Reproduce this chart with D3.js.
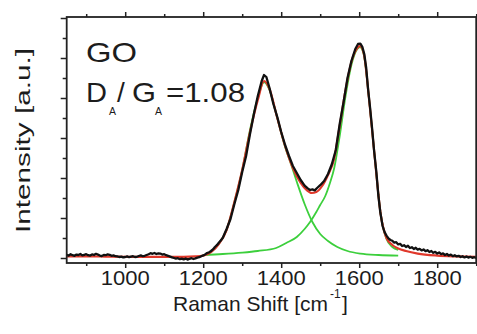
<!DOCTYPE html>
<html>
<head>
<meta charset="utf-8">
<script src="https://cdn.jsdelivr.net/npm/d3@7"></script>
<style>
body { margin: 0; background: #fff; }
text { font-family: "Liberation Sans", Arial, sans-serif; fill: #1c1c1c; }
</style>
</head>
<body>
<div id="chart"></div>
<script>

// measured Raman spectrum of GO (black), [shift cm-1, intensity a.u.]
var spectrum = [
    [850, 0.016], [855, 0.012], [860, 0.019], [865, 0.014], [870, 0.011], [875, 0.017],
    [880, 0.015], [885, 0.020], [890, 0.013], [895, 0.016], [900, 0.019], [905, 0.014],
    [910, 0.012], [915, 0.018], [920, 0.015], [925, 0.021], [930, 0.017], [935, 0.012],
    [940, 0.010], [945, 0.015], [950, 0.014], [955, 0.018], [960, 0.016], [965, 0.011],
    [970, 0.013], [975, 0.009], [980, 0.008], [985, 0.005], [990, 0.007], [995, 0.003],
    [1000, 0.005], [1005, 0.008], [1010, 0.004], [1015, 0.007], [1020, 0.009], [1025, 0.005],
    [1030, 0.006], [1035, 0.010], [1040, 0.013], [1045, 0.009], [1050, 0.011], [1055, 0.015],
    [1060, 0.019], [1065, 0.024], [1070, 0.021], [1075, 0.025], [1080, 0.020], [1085, 0.023],
    [1090, 0.022], [1095, 0.017], [1100, 0.019], [1105, 0.014], [1110, 0.011], [1115, 0.007],
    [1120, 0.003], [1125, 0.000], [1130, -0.003], [1135, -0.001], [1140, -0.006], [1145, -0.003],
    [1150, -0.007], [1155, -0.002], [1160, -0.008], [1165, -0.004], [1170, -0.001], [1175, -0.005],
    [1180, -0.002], [1185, 0.002], [1190, 0.004], [1195, 0.009], [1200, 0.013], [1205, 0.018],
    [1210, 0.025], [1215, 0.028], [1220, 0.035], [1225, 0.043], [1230, 0.055], [1235, 0.064],
    [1240, 0.076], [1245, 0.088], [1250, 0.100], [1260, 0.145], [1270, 0.195], [1280, 0.270],
    [1290, 0.340], [1300, 0.430], [1310, 0.510], [1320, 0.620], [1330, 0.720], [1340, 0.810],
    [1350, 0.885], [1356, 0.915], [1362, 0.905], [1370, 0.850], [1380, 0.770], [1390, 0.705],
    [1400, 0.630], [1410, 0.565], [1420, 0.510], [1430, 0.460], [1440, 0.425], [1450, 0.390],
    [1460, 0.362], [1468, 0.348], [1474, 0.340], [1480, 0.343], [1486, 0.338], [1492, 0.350],
    [1500, 0.364], [1510, 0.385], [1520, 0.420], [1530, 0.470], [1540, 0.540], [1550, 0.670],
    [1560, 0.780], [1570, 0.900], [1580, 0.985], [1590, 1.045], [1597, 1.070], [1603, 1.072],
    [1608, 1.056], [1613, 1.020], [1618, 0.950], [1623, 0.840], [1628, 0.750], [1633, 0.650],
    [1638, 0.540], [1644, 0.430], [1649, 0.315], [1654, 0.230], [1660, 0.160], [1665, 0.130],
    [1670, 0.112], [1675, 0.098], [1680, 0.090], [1685, 0.086], [1690, 0.077], [1695, 0.079],
    [1700, 0.068], [1705, 0.071], [1710, 0.060], [1715, 0.064], [1720, 0.055], [1725, 0.061],
    [1730, 0.050], [1735, 0.054], [1740, 0.045], [1745, 0.051], [1750, 0.042], [1755, 0.046],
    [1760, 0.038], [1765, 0.043], [1770, 0.034], [1775, 0.039], [1780, 0.030], [1785, 0.035],
    [1790, 0.026], [1795, 0.031], [1800, 0.022], [1805, 0.028], [1810, 0.019], [1815, 0.023],
    [1820, 0.015], [1825, 0.020], [1830, 0.012], [1835, 0.017], [1840, 0.009], [1845, 0.014],
    [1850, 0.008], [1855, 0.011], [1860, 0.005], [1865, 0.009], [1870, 0.003], [1875, 0.008],
    [1880, 0.002], [1885, 0.006], [1890, 0.001], [1895, 0.004], [1900, 0.000]
];

// cumulative fit (red)
var fitSum = [
    [850, 0.008], [900, 0.008], [950, 0.007], [1000, 0.006], [1050, 0.006], [1100, 0.006],
    [1150, 0.006], [1180, 0.008], [1200, 0.012], [1220, 0.030], [1240, 0.070], [1260, 0.140],
    [1280, 0.280], [1300, 0.440], [1320, 0.630], [1340, 0.790], [1356, 0.885], [1370, 0.845],
    [1390, 0.700], [1410, 0.560], [1430, 0.450], [1450, 0.375], [1465, 0.340], [1478, 0.325],
    [1490, 0.330], [1505, 0.360], [1520, 0.415], [1535, 0.490], [1550, 0.660], [1565, 0.840],
    [1580, 0.980], [1595, 1.050], [1602, 1.060], [1612, 1.020], [1625, 0.800], [1640, 0.500],
    [1655, 0.220], [1670, 0.100], [1685, 0.065], [1700, 0.048], [1720, 0.035], [1750, 0.022],
    [1800, 0.012], [1850, 0.008], [1900, 0.006]
];

// D band component (green)
var dBand = [
    [1200, 0.012], [1220, 0.030], [1240, 0.070], [1260, 0.140], [1280, 0.280], [1300, 0.440],
    [1320, 0.640], [1340, 0.800], [1356, 0.880], [1370, 0.840], [1390, 0.700], [1410, 0.555],
    [1425, 0.470], [1441, 0.375], [1460, 0.270], [1480, 0.180], [1500, 0.120], [1520, 0.085],
    [1544, 0.055], [1570, 0.035], [1603, 0.022], [1650, 0.015], [1700, 0.012]
];

// G band component (green)
var gBand = [
    [1200, 0.015], [1250, 0.020], [1300, 0.027], [1340, 0.035], [1387, 0.050], [1413, 0.075],
    [1440, 0.105], [1460, 0.145], [1474, 0.180], [1490, 0.230], [1500, 0.265], [1513, 0.310],
    [1525, 0.375], [1536, 0.450], [1550, 0.610], [1565, 0.810], [1580, 0.965], [1595, 1.045],
    [1602, 1.055], [1612, 1.015], [1625, 0.800], [1640, 0.500], [1655, 0.220], [1670, 0.095],
    [1685, 0.055], [1700, 0.040]
];

var xMajorTicks = [1000, 1200, 1400, 1600, 1800];
var xMinorTicks = [900, 1100, 1300, 1500, 1700, 1900];
var yMajorTicks = [0, 0.2, 0.4, 0.6, 0.8, 1.0, 1.2];
var yMinorTicks = [0.1, 0.3, 0.5, 0.7, 0.9, 1.1];

var width = 477, height = 334;
var plotLeft = 66.7, plotRight = 476.2, plotTop = 17, plotBottom = 263;

var svg = d3.select("#chart").append("svg")
    .attr("width", width)
    .attr("height", height);

svg.append("rect")
    .attr("width", width)
    .attr("height", height)
    .attr("fill", "#fff");

var x = d3.scaleLinear().domain([850, 1900]).range([plotLeft, plotRight]);
var y = d3.scaleLinear().domain([-0.025, 1.205]).range([plotBottom, plotTop]);

svg.append("clipPath").attr("id", "plot-clip")
    .append("rect")
    .attr("x", plotLeft).attr("y", plotTop)
    .attr("width", plotRight - plotLeft).attr("height", plotBottom - plotTop);

var plot = svg.append("g").attr("clip-path", "url(#plot-clip)");

var smooth = d3.line()
    .x(function (d) { return x(d[0]); })
    .y(function (d) { return y(d[1]); })
    .curve(d3.curveMonotoneX);

var raw = d3.line()
    .x(function (d) { return x(d[0]); })
    .y(function (d) { return y(d[1]); });

plot.selectAll(".band")
    .data([dBand, gBand])
    .enter().append("path")
    .attr("class", "band")
    .attr("d", smooth)
    .attr("fill", "none")
    .attr("stroke", "#3ccf3c")
    .attr("stroke-width", 1.8);

plot.append("path")
    .attr("d", smooth(fitSum))
    .attr("fill", "none")
    .attr("stroke", "#e0382b")
    .attr("stroke-width", 2.2);

plot.append("path")
    .attr("d", raw(spectrum))
    .attr("fill", "none")
    .attr("stroke", "#111")
    .attr("stroke-width", 2.3)
    .attr("stroke-linejoin", "round");

// axes: ticks only, frame drawn separately
function ticks(axis, values, size, transform) {
    var g = svg.append("g")
        .attr("transform", transform)
        .call(axis.tickValues(values).tickSize(size).tickFormat(""));
    g.select(".domain").remove();
    g.selectAll("line").attr("stroke", "#222").attr("stroke-width", 1.5);
}

ticks(d3.axisBottom(x), xMajorTicks, 5, "translate(0," + plotBottom + ")");
ticks(d3.axisBottom(x), xMinorTicks, 3, "translate(0," + plotBottom + ")");
ticks(d3.axisTop(x), xMajorTicks, 5, "translate(0," + plotTop + ")");
ticks(d3.axisTop(x), xMinorTicks, 3, "translate(0," + plotTop + ")");
ticks(d3.axisLeft(y), yMajorTicks, 6, "translate(" + plotLeft + ",0)");
ticks(d3.axisLeft(y), yMinorTicks, 4, "translate(" + plotLeft + ",0)");

svg.append("rect")
    .attr("x", plotLeft).attr("y", plotTop)
    .attr("width", plotRight - plotLeft).attr("height", plotBottom - plotTop)
    .attr("fill", "none")
    .attr("stroke", "#222")
    .attr("stroke-width", 1.8);

svg.selectAll(".xlabel")
    .data(xMajorTicks)
    .enter().append("text")
    .attr("class", "xlabel")
    .attr("x", function (d) { return x(d); })
    .attr("y", 285)
    .attr("text-anchor", "middle")
    .attr("font-size", 19.5)
    .attr("textLength", 49)
    .attr("lengthAdjust", "spacingAndGlyphs")
    .text(function (d) { return d; });

// x title
svg.append("text")
    .attr("x", 173).attr("y", 311)
    .attr("font-size", 21)
    .attr("textLength", 155)
    .attr("lengthAdjust", "spacingAndGlyphs")
    .text("Raman Shift [cm");
svg.append("text")
    .attr("x", 330).attr("y", 298)
    .attr("font-size", 12)
    .text("-1");
svg.append("text")
    .attr("x", 342).attr("y", 311)
    .attr("font-size", 21)
    .text("]");

// y title
svg.append("text")
    .attr("transform", "translate(30,233) rotate(-90)")
    .attr("font-size", 20.5)
    .attr("textLength", 185)
    .attr("lengthAdjust", "spacingAndGlyphs")
    .text("Intensity [a.u.]");

// annotation
svg.append("text")
    .attr("x", 86).attr("y", 62)
    .attr("font-size", 28)
    .attr("textLength", 51)
    .attr("lengthAdjust", "spacingAndGlyphs")
    .text("GO");

var note = [
    {t: "D", x: 86, y: 102, s: 28, w: 21},
    {t: "A", x: 109, y: 115, s: 10, w: 7},
    {t: "/", x: 117, y: 102, s: 28, w: null},
    {t: "G", x: 132, y: 102, s: 28, w: 24},
    {t: "A", x: 155, y: 115, s: 10, w: 7},
    {t: "=1.08", x: 166, y: 102, s: 28, w: 79}
];
svg.selectAll(".note")
    .data(note)
    .enter().append("text")
    .attr("class", "note")
    .attr("x", function (d) { return d.x; })
    .attr("y", function (d) { return d.y; })
    .attr("font-size", function (d) { return d.s; })
    .attr("textLength", function (d) { return d.w; })
    .attr("lengthAdjust", function (d) { return d.w ? "spacingAndGlyphs" : null; })
    .text(function (d) { return d.t; });

</script>
</body>
</html>
